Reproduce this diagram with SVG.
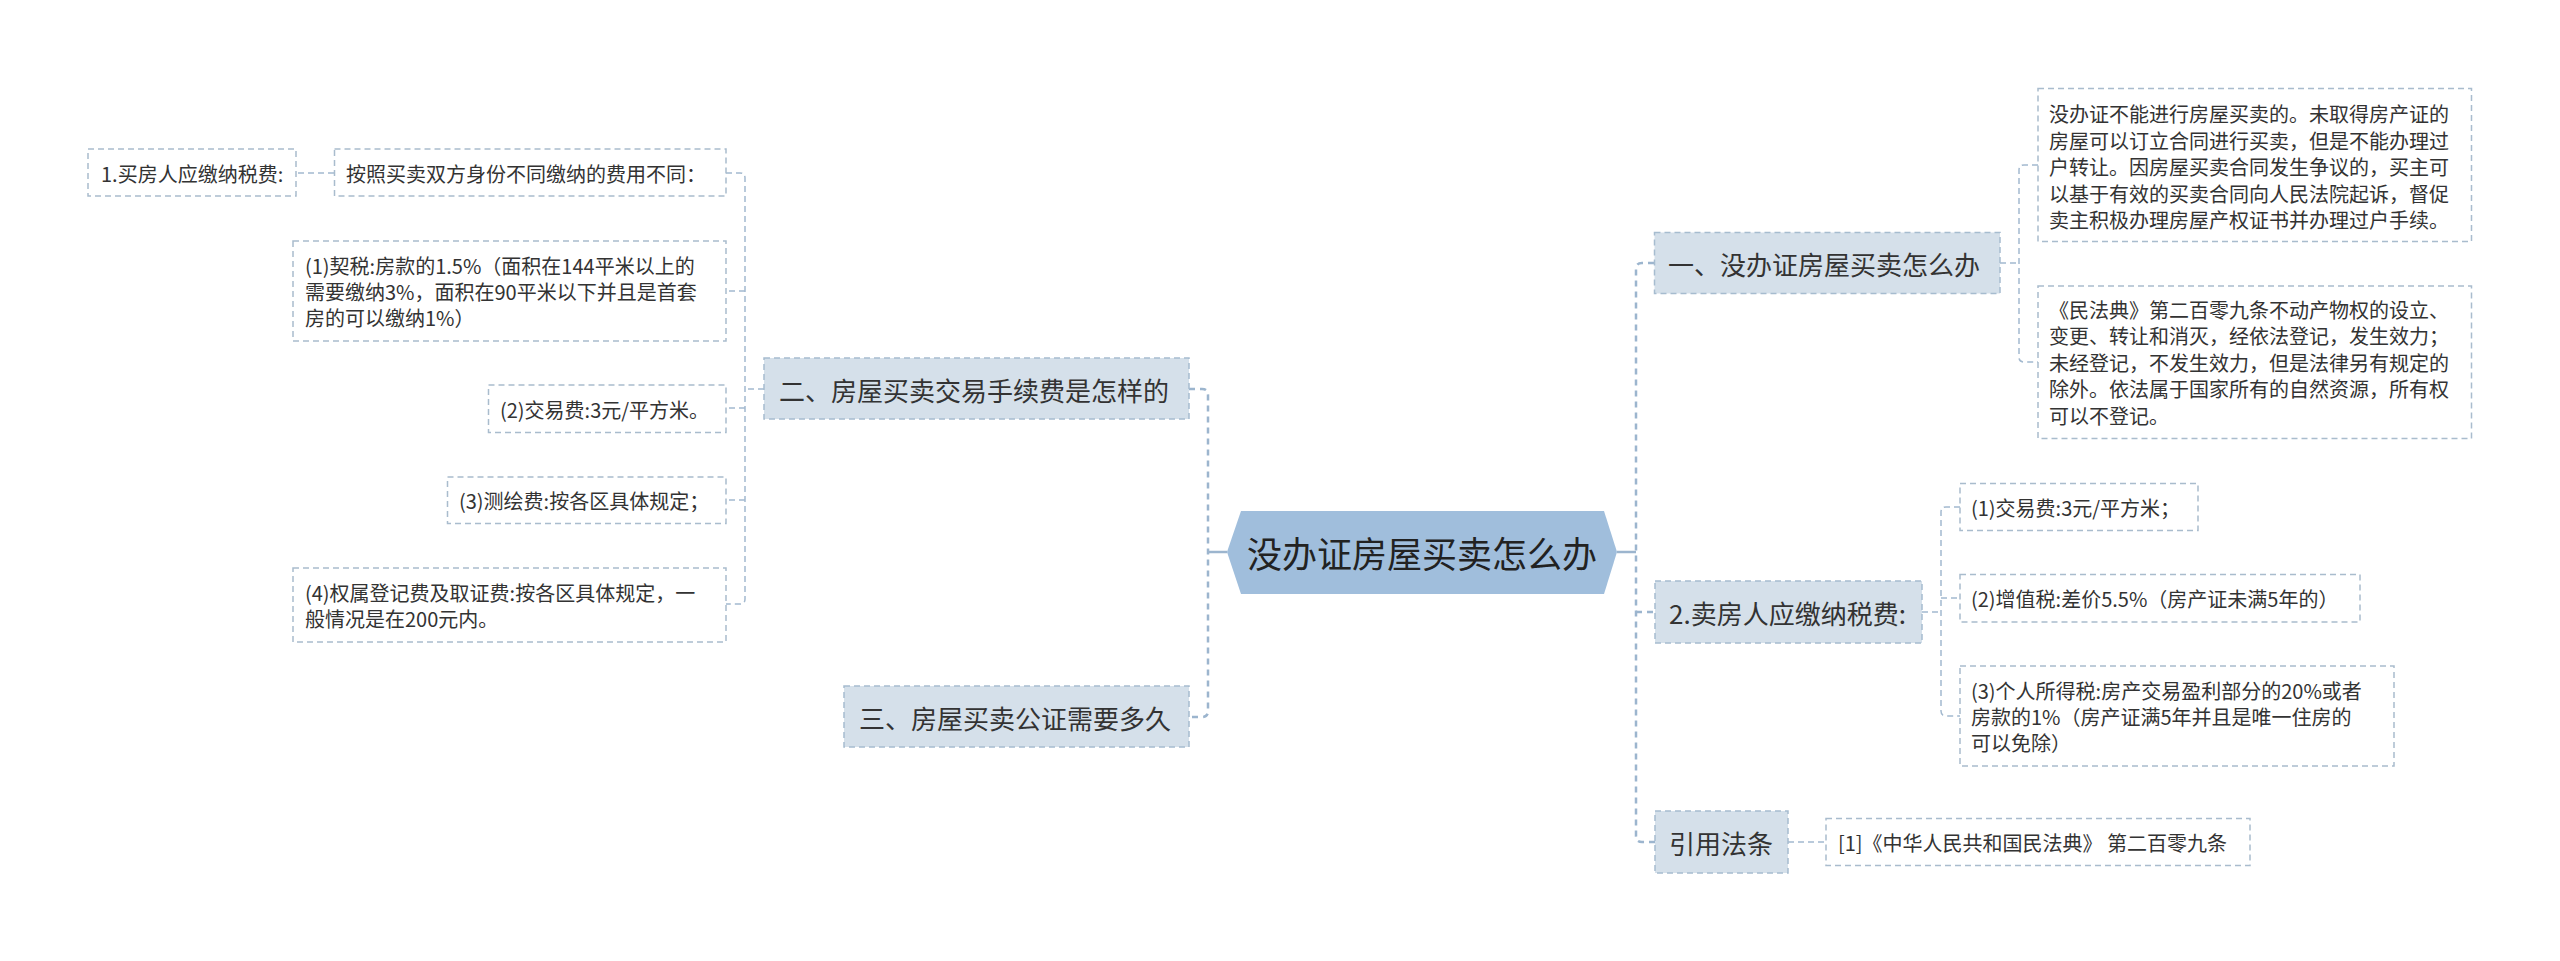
<svg xmlns="http://www.w3.org/2000/svg" width="2560" height="961" viewBox="0 0 2560 961">
<style>
  text { font-family: "Noto Sans CJK SC", "Liberation Sans", sans-serif; fill: #333333; dominant-baseline: central; }
  .root-t { font-size: 36px; fill: #222222; }
  .l1 { fill: #d5e0ea; stroke: #a6bccf; stroke-width: 1.5; stroke-dasharray: 6 4; }
  .l1-t { font-size: 26px; }
  .leaf { fill: #ffffff; stroke: #a9bccd; stroke-width: 1.5; stroke-dasharray: 6 4; }
  .leaf-t { font-size: 20px; }
  .c-main { fill: none; stroke: #9cb5ce; stroke-width: 2.5; stroke-dasharray: 6 5; }
  .c-solid { fill: none; stroke: #9cb5ce; stroke-width: 2.5; }
  .c-sub { fill: none; stroke: #a3b9cf; stroke-width: 1.5; stroke-dasharray: 6 4; }
</style>
<rect width="2560" height="961" fill="#ffffff"/>

<g id="connectors">
  <path class="c-solid" d="M1227,552 H1208"/>
  <path class="c-main" d="M1189,389 H1202 Q1208,389 1208,395 V711 Q1208,717 1202,717 H1189"/>
  <path class="c-solid" d="M1617,552 H1636"/>
  <path class="c-main" d="M1654,263 H1642 Q1636,263 1636,269 V836 Q1636,842 1642,842 H1655"/>
  <path class="c-main" d="M1636,612 H1655"/>
  <path class="c-sub" d="M764,389 H745"/>
  <path class="c-sub" d="M726,173 H740 Q745,173 745,178 V599 Q745,604 740,604 H726"/>
  <path class="c-sub" d="M745,291 H726"/>
  <path class="c-sub" d="M745,408 H726"/>
  <path class="c-sub" d="M745,500 H726"/>
  <path class="c-sub" d="M334,173 H296"/>
  <path class="c-sub" d="M2000,263 H2019"/>
  <path class="c-sub" d="M2038,165 H2024 Q2019,165 2019,170 V357 Q2019,362 2024,362 H2038"/>
  <path class="c-sub" d="M1922,612 H1941"/>
  <path class="c-sub" d="M1960,507 H1946 Q1941,507 1941,512 V711 Q1941,716 1946,716 H1960"/>
  <path class="c-sub" d="M1941,598 H1960"/>
  <path class="c-sub" d="M1788,842 H1826"/>
</g>

<g id="root">
  <polygon points="1227,552 1241,511 1604,511 1617,552 1604,594 1241,594" fill="#a0bedc"/>
  <text class="root-t" x="1247" y="552" textLength="350" lengthAdjust="spacingAndGlyphs">没办证房屋买卖怎么办</text>
</g>

<g id="n-er">
  <rect class="l1" x="764" y="358" width="425" height="61"/>
  <text class="l1-t" x="779" y="389">二、房屋买卖交易手续费是怎样的</text>
</g>
<g id="n-san">
  <rect class="l1" x="844" y="686" width="345" height="61"/>
  <text class="l1-t" x="859" y="717">三、房屋买卖公证需要多久</text>
</g>

<g id="n-anzhao">
  <rect class="leaf" x="334.5" y="149" width="391.5" height="47"/>
  <text class="leaf-t" x="346" y="173">按照买卖双方身份不同缴纳的费用不同：</text>
</g>
<g id="n-maifang">
  <rect class="leaf" x="88" y="149" width="208" height="47"/>
  <text class="leaf-t" x="101" y="173">1.买房人应缴纳税费:</text>
</g>
<g id="n-qishui">
  <rect class="leaf" x="293" y="241" width="433" height="100"/>
  <text class="leaf-t" x="305" y="265">(1)契税:房款的1.5%（面积在144平米以上的</text>
  <text class="leaf-t" x="305" y="291">需要缴纳3%，面积在90平米以下并且是首套</text>
  <text class="leaf-t" x="305" y="317">房的可以缴纳1%）</text>
</g>
<g id="n-jiaoyi-l">
  <rect class="leaf" x="488.5" y="385" width="237.5" height="47.5"/>
  <text class="leaf-t" x="500" y="409">(2)交易费:3元/平方米。</text>
</g>
<g id="n-cehui">
  <rect class="leaf" x="447.5" y="477" width="278.5" height="46.5"/>
  <text class="leaf-t" x="459" y="500">(3)测绘费:按各区具体规定；</text>
</g>
<g id="n-quanshu">
  <rect class="leaf" x="293" y="568" width="433" height="74"/>
  <text class="leaf-t" x="305" y="592">(4)权属登记费及取证费:按各区具体规定，一</text>
  <text class="leaf-t" x="305" y="618">般情况是在200元内。</text>
</g>

<g id="n-yi">
  <rect class="l1" x="1654.5" y="232.5" width="345.5" height="61"/>
  <text class="l1-t" x="1668" y="263">一、没办证房屋买卖怎么办</text>
</g>
<g id="n-yi-a">
  <rect class="leaf" x="2038" y="88.5" width="433.5" height="153"/>
  <text class="leaf-t" x="2049" y="113.5">没办证不能进行房屋买卖的。未取得房产证的</text>
  <text class="leaf-t" x="2049" y="140">房屋可以订立合同进行买卖，但是不能办理过</text>
  <text class="leaf-t" x="2049" y="166.5">户转让。因房屋买卖合同发生争议的，买主可</text>
  <text class="leaf-t" x="2049" y="193">以基于有效的买卖合同向人民法院起诉，督促</text>
  <text class="leaf-t" x="2049" y="219.5">卖主积极办理房屋产权证书并办理过户手续。</text>
</g>
<g id="n-yi-b">
  <rect class="leaf" x="2038" y="286" width="433.5" height="152.5"/>
  <text class="leaf-t" x="2049" y="309">《民法典》第二百零九条不动产物权的设立、</text>
  <text class="leaf-t" x="2049" y="335.5">变更、转让和消灭，经依法登记，发生效力；</text>
  <text class="leaf-t" x="2049" y="362">未经登记，不发生效力，但是法律另有规定的</text>
  <text class="leaf-t" x="2049" y="388.5">除外。依法属于国家所有的自然资源，所有权</text>
  <text class="leaf-t" x="2049" y="415">可以不登记。</text>
</g>

<g id="n-maifang2">
  <rect class="l1" x="1655" y="581" width="267" height="62"/>
  <text class="l1-t" x="1669" y="612">2.卖房人应缴纳税费:</text>
</g>
<g id="n-r1">
  <rect class="leaf" x="1960" y="483.5" width="238" height="47"/>
  <text class="leaf-t" x="1971" y="507">(1)交易费:3元/平方米；</text>
</g>
<g id="n-r2">
  <rect class="leaf" x="1960" y="574.5" width="400" height="47.5"/>
  <text class="leaf-t" x="1971" y="598">(2)增值税:差价5.5%（房产证未满5年的）</text>
</g>
<g id="n-r3">
  <rect class="leaf" x="1960" y="666" width="434" height="100"/>
  <text class="leaf-t" x="1971" y="690">(3)个人所得税:房产交易盈利部分的20%或者</text>
  <text class="leaf-t" x="1971" y="716">房款的1%（房产证满5年并且是唯一住房的</text>
  <text class="leaf-t" x="1971" y="742">可以免除）</text>
</g>

<g id="n-yinyong">
  <rect class="l1" x="1655" y="811" width="133" height="62"/>
  <text class="l1-t" x="1669" y="842">引用法条</text>
</g>
<g id="n-law">
  <rect class="leaf" x="1826" y="818.5" width="424" height="47"/>
  <text class="leaf-t" x="1838" y="842">[1]《中华人民共和国民法典》 第二百零九条</text>
</g>
</svg>
